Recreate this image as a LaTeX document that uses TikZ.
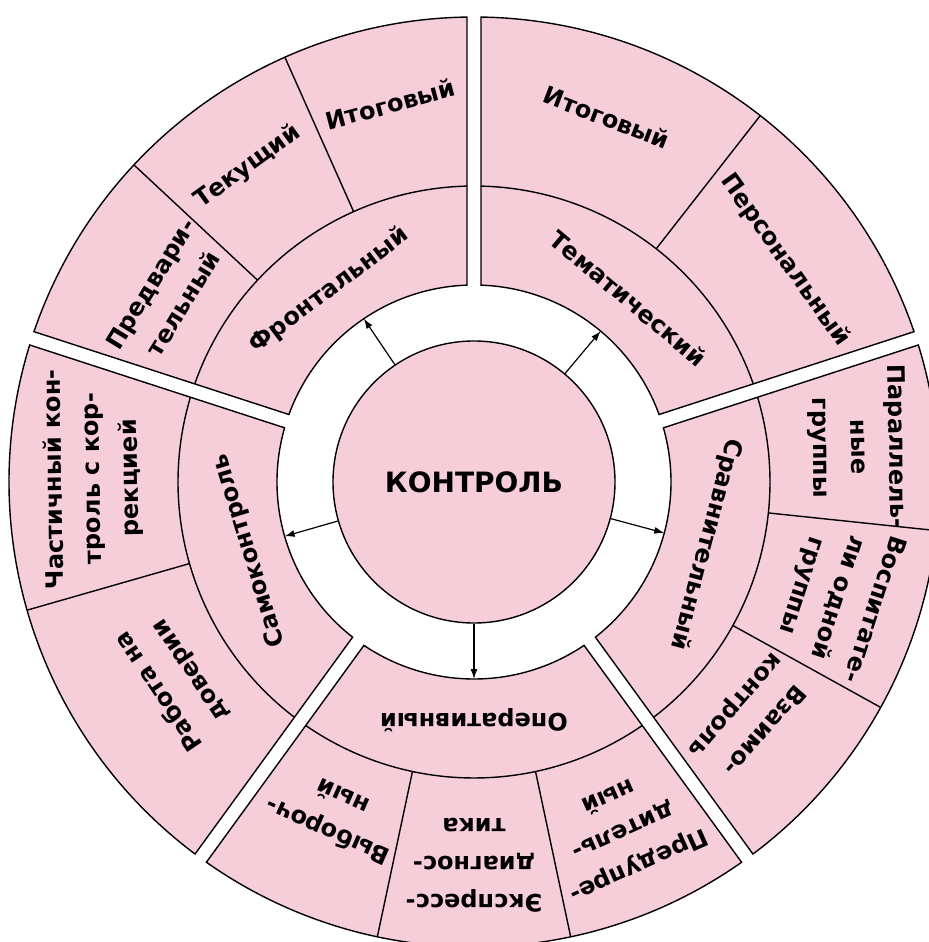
\documentclass[tikz,border=0pt]{standalone}
\usepackage{fontspec}
\setmainfont{DejaVu Sans}
\usetikzlibrary{arrows.meta}

\newlength{\du}
\setlength{\du}{0.5\unitlength}
\definecolor{sectorpink}{RGB}{246,206,217}
\def\gapHalf{7}
\def\radIn{197}
\def\radMid{296}
\def\radOut{465}

\newcommand{\ringpiece}[2]{%
\pgfmathsetmacro{\angA}{#1+asin(\gapHalf/\radIn)}%
\pgfmathsetmacro{\angB}{#2-asin(\gapHalf/\radIn)}%
\pgfmathsetmacro{\angC}{#2-asin(\gapHalf/\radOut)}%
\pgfmathsetmacro{\angD}{#1+asin(\gapHalf/\radOut)}%
\pgfmathsetmacro{\angE}{#1+asin(\gapHalf/\radMid)}%
\pgfmathsetmacro{\angF}{#2-asin(\gapHalf/\radMid)}%
\draw[piece] (\angA:\radIn\du) arc[start angle=\angA, end angle=\angB, radius=\radIn\du] -- (\angC:\radOut\du) arc[start angle=\angC, end angle=\angD, radius=\radOut\du] -- cycle;
\draw[splitline] (\angE:\radMid\du) arc[start angle=\angE, end angle=\angF, radius=\radMid\du];
}
\newcommand{\divider}[1]{\draw[splitline] (#1:\radMid\du) -- (#1:\radOut\du);}

\tikzset{
piece/.style={draw=black, fill=sectorpink, line width=0.7pt},
splitline/.style={draw=black, line width=0.7pt},
core/.style={circle, draw=black, fill=sectorpink, line width=0.7pt, minimum size=282\du, inner sep=0pt, font=\bfseries\fontsize{14}{16}\selectfont},
lbl/.style={align=center, inner sep=0pt, font=\bfseries\fontsize{12}{19}\selectfont},
spoke/.style={draw=black, line width=0.6pt, -{Latex[length=5pt,width=3.5pt]}}
}

\begin{document}
\begin{tikzpicture}
\useasboundingbox (-474\du,-460\du) rectangle (454\du,482\du);
% ring
\ringpiece{90}{162}
\ringpiece{18}{90}
\ringpiece{-54}{18}
\ringpiece{-126}{-54}
\ringpiece{162}{234}
\divider{114}
\divider{137}
\divider{52}
\divider{-6}
\divider{-29}
\divider{-78}
\divider{-102}
\divider{196}
% centre and arrows
\node[core] (kontrol) at (0,0) {КОНТРОЛЬ};
\coordinate (toFront) at (124:\radIn\du);
\coordinate (toTema) at (50:\radIn\du);
\coordinate (toSrav) at (-15:\radIn\du);
\coordinate (toOper) at (-90:\radIn\du);
\coordinate (toSamo) at (196:\radIn\du);
\draw[spoke] (kontrol.124) -- (toFront);
\draw[spoke] (kontrol.50) -- (toTema);
\draw[spoke] (kontrol.-15) -- (toSrav);
\draw[spoke] (kontrol.-90) -- (toOper);
\draw[spoke] (kontrol.196) -- (toSamo);
% inner ring
\node[lbl, rotate=37] (frontal) at (127:240\du) {Фронтальный};
\node[lbl, rotate=-40] (tematic) at (50:240\du) {Тематический};
\node[lbl, rotate=-105] (sravnit) at (-15:240\du) {Сравнительный};
\node[lbl, rotate=180] (operativ) at (-90:238\du) {Оперативный};
\node[lbl, rotate=107] (samokontr) at (197:235\du) {Самоконтроль};
% outer ring
\node[lbl, rotate=15] (frontItog) at (102.5:387\du) {Итоговый};
\node[lbl, rotate=36] (frontTek) at (125.7:388\du) {Текущий};
\node[lbl, rotate=58.5] (frontPred) at (148.5:360\du) {Предвари-\\тельный};
\node[lbl, rotate=-21] (temaItog) at (70:388\du) {Итоговый};
\node[lbl, rotate=-54.5] (temaPers) at (35.5:382\du) {Персональный};
\node[lbl, rotate=-89] (sravPar) at (5.2:385\du) {Параллель-\\ные\\группы};
\node[lbl, rotate=-108] (sravVosp) at (-17.6:381\du) {Воспитате-\\ли одной\\группы};
\node[lbl, rotate=-131] (sravVzaim) at (-40.5:362\du) {Взаимо-\\контроль};
\node[lbl, rotate=156] (operVyb) at (-112.7:361\du) {Выбороч-\\ный};
\node[lbl, rotate=180] (operEksp) at (-90:383\du) {Экспресс-\\диагнос-\\тика};
\node[lbl, rotate=-156] (operPred) at (-66.8:381\du) {Предупре-\\дитель-\\ный};
\node[lbl, rotate=91] (samoChast) at (179.5:381\du) {Частичный кон-\\троль с кор-\\рекцией};
\node[lbl, rotate=124] (samoRab) at (213.6:359\du) {Работа на\\доверии};
\end{tikzpicture}
\end{document}
